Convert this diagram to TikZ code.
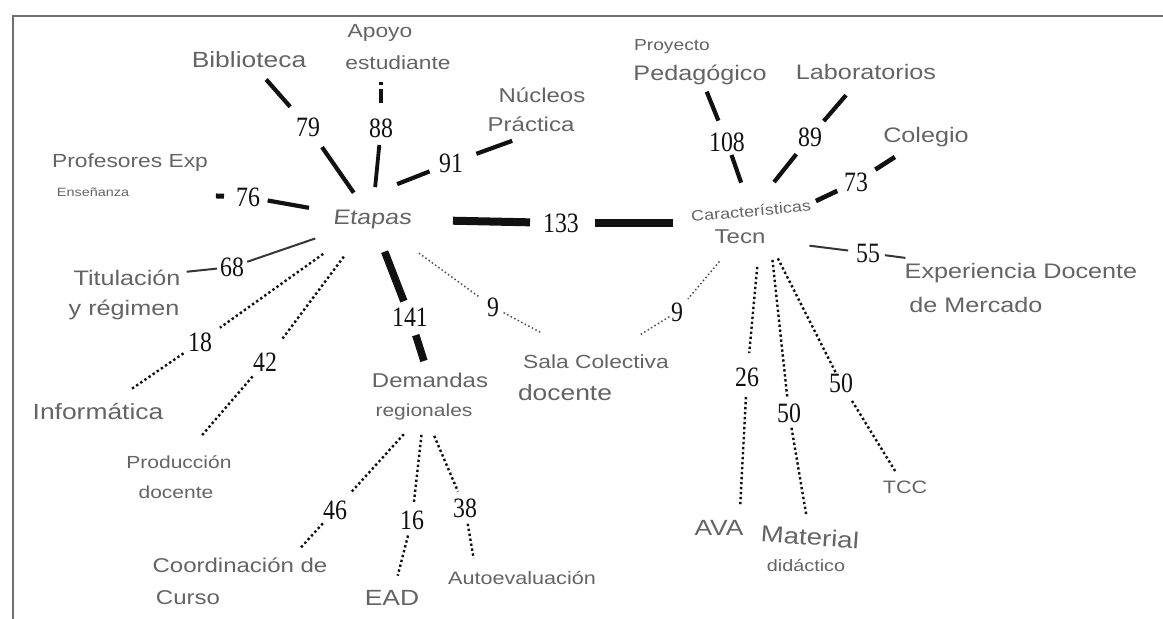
\documentclass[tikz,border=0pt]{standalone}
\usepackage{fontspec}
\newfontfamily\labf[FakeStretch=1.2]{Liberation Sans}
\newfontfamily\labsl[FakeStretch=1.2,FakeSlant=0.12]{Liberation Sans}
\newfontfamily\numf[FakeStretch=0.85]{Liberation Serif}
\definecolor{labgray}{HTML}{646464}
\definecolor{ink}{HTML}{111111}
\definecolor{framegray}{HTML}{707070}
\begin{document}
\begin{tikzpicture}[x=1pt,y=-1pt,
 lbl/.style={inner sep=0pt, text=labgray, font=\labf\fontsize{#1}{#1}\selectfont},
 lbl/.default=21,
 num/.style={inner sep=0pt, text=ink, font=\numf\fontsize{28}{28}\selectfont},
 con/.style={draw=ink, line width=4.2pt},
 thinline/.style={draw=ink!85, line width=2pt},
 heavy/.style={draw=ink, line width=7.5pt},
 dots/.style={draw=ink, line width=2.4pt, dash pattern=on 2.4pt off 2.6pt},
 fdots/.style={draw=ink!75, line width=1.5pt, dash pattern=on 1.5pt off 2.5pt},
]
\fill[white] (0,0) rectangle (1163,619);
\useasboundingbox (0,0) rectangle (1163,619);
\draw[framegray, line width=2.8pt] (13,619) -- (13,16) -- (1163,16);

% labels
\node[lbl=22] (bib) at (249,60) {Biblioteca};
\node[lbl=19] (apoyo) at (380,33) {Apoyo};
\node[lbl=19] (estud) at (398,63) {estudiante};
\node[lbl=20] (nuc1) at (542,95) {Núcleos};
\node[lbl=20] (nuc2) at (531,124) {Práctica};
\node[lbl=19] (prof1) at (130,163) {Profesores Exp};
\node[lbl=12] (prof2) at (93,192) {Enseñanza};
\node[inner sep=0pt, text=labgray, font=\labsl\fontsize{21}{21}\selectfont] (E) at (372,219) {Etapas};
\node[lbl=21] (tit1) at (127,278) {Titulación};
\node[lbl=21] (tit2) at (124,310) {y régimen};
\node[lbl=22] (info) at (98,412) {Informática};
\node[lbl=17.5] (prod1) at (179,462) {Producción};
\node[lbl=17.5] (prod2) at (176,492) {docente};
\node[lbl=20] (dem) at (430,380) {Demandas};
\node[lbl=17.5] (reg) at (424,412) {regionales};
\node[lbl=19] (sala1) at (596,362) {Sala Colectiva};
\node[lbl=22] (sala2) at (565,393) {docente};
\node[lbl=20] (coord1) at (240,565) {Coordinación de};
\node[lbl=20] (coord2) at (188,598) {Curso};
\node[lbl=22] (ead) at (392,598) {EAD};
\node[lbl=18] (auto) at (522,578) {Autoevaluación};
\node[lbl=16] (proy) at (672,47) {Proyecto};
\node[lbl=21] (ped) at (700,75) {Pedagógico};
\node[lbl=21] (labo) at (866,72) {Laboratorios};
\node[lbl=21] (col) at (926,137) {Colegio};
\node[lbl=15, rotate=5] (C) at (751,211) {Características};
\node[lbl=20] (T) at (740,237) {Tecn};
\node[lbl=21] (exp1) at (1021,273) {Experiencia Docente};
\node[lbl=21] (exp2) at (976,305) {de Mercado};
\node[lbl=22] (ava) at (719,528) {AVA};
\node[lbl=23, rotate=-4] (mat1) at (810,537) {Material};
\node[lbl=16.5] (mat2) at (806,565) {didáctico};
\node[lbl=18] (tcc) at (905,487) {TCC};

% numbers
\node[num] (n79) at (308,127) {79};
\node[num] (n88) at (381,128) {88};
\node[num] (n91) at (451,163) {91};
\node[num] (n76) at (248,197) {76};
\node[num] (n68) at (232,267) {68};
\node[num] (n18) at (200,342) {18};
\node[num] (n42) at (265,362) {42};
\node[num] (n141) at (410,317) {141};
\node[num] (n9a) at (493,307) {9};
\node[num] (n9b) at (677,312) {9};
\node[num] (n133) at (561,223) {133};
\node[num] (n108) at (727,142) {108};
\node[num] (n89) at (810,137) {89};
\node[num] (n73) at (856,182) {73};
\node[num] (n55) at (868,253) {55};
\node[num] (n26) at (747,377) {26};
\node[num] (n50a) at (789,413) {50};
\node[num] (n50b) at (841,383) {50};
\node[num] (n46) at (335,510) {46};
\node[num] (n16) at (412,520) {16};
\node[num] (n38) at (465,508) {38};

% connectors around Etapas
\draw[con, shorten <=32pt, shorten >=24.5pt] (E.center) -- (n79.center);
\draw[con, shorten <=27pt, shorten >=26pt] (n79.center) -- (bib.center);
\draw[con, line width=3.8pt, shorten <=32pt, shorten >=17pt] (E.center) -- (n88.center);
\draw[con, line width=3.8pt, dash pattern=on 14pt off 4pt on 3pt off 30pt, shorten <=25pt, shorten >=19pt] (n88.center) -- (n88.center |- estud.center);
\draw[con, shorten <=27pt, shorten >=23pt] ([yshift=25pt]E.center) -- (n91.center);
\draw[con, shorten <=27pt, shorten >=20pt] (n91.center) -- ([yshift=-10pt]nuc2.center);
\draw[con, shorten <=64pt, shorten >=20pt] (E.center) -- (n76.center);
\draw[con, line width=5pt, shorten <=24pt, shorten >=123pt] (n76.center) -- (prof2.center);
\draw[thinline, shorten <=60pt, shorten >=16pt] (E.center) -- (n68.center);
\draw[thinline, shorten <=15pt, shorten >=60pt] (n68.center) -- (tit1.center);
\draw[dots, shorten <=60pt, shorten >=24.5pt] (E.center) -- (n18.center);
\draw[dots, shorten <=20pt, shorten >=40pt] (n18.center) -- (info.center);
\draw[dots, shorten <=47pt, shorten >=29pt] (E.center) -- (n42.center);
\draw[dots, shorten <=19pt, shorten >=35pt] (n42.center) -- (prod1.center);
\draw[heavy, shorten <=35pt, shorten >=17pt] (E.center) -- (n141.center);
\draw[heavy, shorten <=19pt, shorten >=20pt] (n141.center) -- (dem.center);
\draw[fdots, shorten <=58pt, shorten >=16pt] (E.center) -- (n9a.center);
\draw[fdots, shorten <=12pt, shorten >=61pt] (n9a.center) -- (sala1.center);
\draw[con, line width=8pt, shorten <=81pt, shorten >=31pt] (E.center) -- (n133.center);
\draw[con, line width=8pt, shorten <=34pt, shorten >=67pt] (n133.center) -- ([yshift=14pt]T.center);

% connectors around Tecn
\draw[con, shorten <=30pt, shorten >=13.7pt] (C.center) -- (n108.center);
\draw[con, shorten <=23pt, shorten >=18pt] (n108.center) -- (ped.center);
\draw[con, shorten <=37pt, shorten >=22pt] (C.center) -- (n89.center);
\draw[con, shorten <=21pt, shorten >=30.6pt] (n89.center) -- (labo.center);
\draw[con, line width=4.6pt, shorten <=84pt, shorten >=20.7pt] (T.center) -- (n73.center);
\draw[con, line width=4.6pt, shorten <=23pt, shorten >=37pt] (n73.center) -- (col.center);
\draw[thinline, shorten <=70pt, shorten >=20pt] (T.center) -- (n55.center);
\draw[thinline, shorten <=17pt, shorten >=116.6pt] (n55.center) -- (exp1.center);
\draw[fdots, shorten <=32pt, shorten >=17pt] (T.center) -- (n9b.center);
\draw[fdots, shorten <=9pt, shorten >=50.7pt] (n9b.center) -- (sala1.center);
\draw[dots, shorten <=30pt, shorten >=24pt] ([xshift=20pt]T.center) -- (n26.center);
\draw[dots, shorten <=20pt, shorten >=23pt] (n26.center) -- ([xshift=20pt]ava.center);
\draw[dots, shorten <=23pt, shorten >=16pt] ([xshift=30pt]T.center) -- (n50a.center);
\draw[dots, shorten <=15pt, shorten >=21pt] (n50a.center) -- (mat1.center);
\draw[dots, shorten <=24pt, shorten >=10pt] ([xshift=27pt]T.center) -- (n50b.center);
\draw[dots, shorten <=21pt, shorten >=17pt] (n50b.center) -- (tcc.center);

% connectors around Demandas regionales
\draw[dots, shorten <=30pt, shorten >=22.7pt] (reg.center) -- (n46.center);
\draw[dots, shorten <=18pt, shorten >=22.5pt] (n46.center) -- ([xshift=45pt]coord1.center);
\draw[dots, shorten <=23pt, shorten >=18pt] (reg.center) -- (n16.center);
\draw[dots, shorten <=16pt, shorten >=23pt] (n16.center) -- (ead.center);
\draw[dots, shorten <=26pt, shorten >=18pt] (reg.center) -- (n38.center);
\draw[dots, shorten <=16pt, shorten >=20pt] (n38.center) -- ([xshift=-45pt]auto.center);
\end{tikzpicture}
\end{document}
